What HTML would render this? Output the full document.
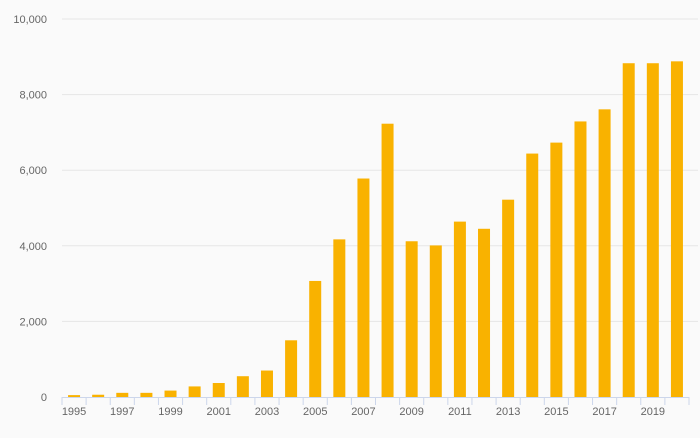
<!DOCTYPE html>
<html><head><meta charset="utf-8"><style>
body{margin:0;background:#fafafa;font-family:"Liberation Sans",sans-serif;}
svg text{font-size:11px;fill:#666;}
</style></head><body>
<svg width="700" height="433">
<g id="grid"></g><g id="bars"></g><g id="axis"></g>
</svg>
<script>
const years=[1995,1996,1997,1998,1999,2000,2001,2002,2003,2004,2005,2006,2007,2008,2009,2010,2011,2012,2013,2014,2015,2016,2017,2018,2019,2020];
const values=[50,60,110,110,170,280,370,550,700,1500,3070,4170,5780,7230,4120,4010,4640,4450,5220,6440,6730,7290,7610,8830,8830,8880];
const yTicks=[0,2000,4000,6000,8000,10000];
const ns="http://www.w3.org/2000/svg";
const x0=62,x1=689,y0=397,yTop=19,band=(x1-x0)/years.length,bw=12;
const yS=v=>y0-(v/10000)*(y0-yTop);
const xS=i=>x0+band*(i+0.5);
function mk(t,a,p){const e=document.createElementNS(ns,t);for(const k in a)e.setAttribute(k,a[k]);p.appendChild(e);return e;}
const g=document.getElementById('grid'),b=document.getElementById('bars'),ax=document.getElementById('axis');
yTicks.forEach(v=>{
 if(v>0){const l=mk('line',{x1:x0,x2:698,y1:yS(v),y2:yS(v),stroke:'#e6e6e6'},g);
 
 }
 const t=mk('text',{x:47,y:yS(v)+4,'text-anchor':'end'},g);t.textContent=v.toLocaleString('en-US');
 
 
});
values.forEach((v,i)=>{
 const r=mk('rect',{x:xS(i)-bw/2,y:yS(v),width:bw,height:y0-yS(v),fill:'#f9b200'},b);
 
 
});
const al=mk('line',{x1:x0,x2:x1,y1:y0+0.5,y2:y0+0.5,stroke:'#ccd6eb'},ax);


for(let i=0;i<=years.length;i++){
 const tk=mk('line',{x1:x0+band*i,x2:x0+band*i,y1:y0,y2:y0+8,stroke:'#ccd6eb'},ax);
 
 
}
years.forEach((yv,i)=>{if(i%2)return;
 const t=mk('text',{x:xS(i),y:415,'text-anchor':'middle'},ax);t.textContent=yv;
 
 
});
</script>
</body></html>
